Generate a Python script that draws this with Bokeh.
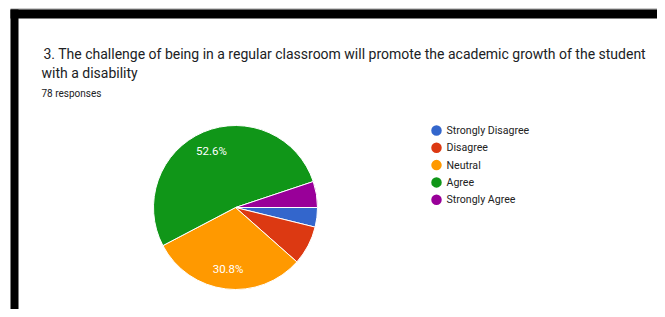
import numpy as np
from bokeh.plotting import figure
from bokeh.models import Range1d, BoxAnnotation
from bokeh.core.properties import value
from bokeh.embed import file_html
from bokeh.resources import INLINE

# ---- data ----
title_lines = ["3.  The challenge of being in a regular classroom will promote the academic growth of the student",
               "with a disability"]
subtitle = "78 responses"
categories = ["Strongly Disagree", "Disagree", "Neutral", "Agree", "Strongly Agree"]
counts = [3, 6, 24, 41, 4]
colors = ["#3366cc", "#dc3912", "#ff9900", "#109618", "#990099"]

W, H = 657, 309
# data coords: x = picture px, y = H - picture py
def Y(py):
    return H - py

p = figure(width=W, height=H, output_backend="svg", toolbar_location=None,
           x_range=Range1d(0, W), y_range=Range1d(0, H),
           min_border=0, outline_line_color=None)
p.axis.visible = False
p.grid.visible = False
p.background_fill_color = "white"
p.border_fill_color = "white"

# frame decoration (black border of screenshot)
p.add_layout(BoxAnnotation(left=10, right=W, top=Y(8), bottom=Y(9), fill_color="#9a9a9a", fill_alpha=1, line_color=None))
p.add_layout(BoxAnnotation(left=10, right=W, top=Y(9), bottom=Y(18), fill_color="black", fill_alpha=1, line_color=None))
p.add_layout(BoxAnnotation(left=10, right=18, top=Y(9), bottom=0, fill_color="black", fill_alpha=1, line_color=None))

font = value("Roboto")
# title
p.text(x=[43], y=[Y(53)], text=[title_lines[0]], text_font=font, text_font_size="14px",
       text_color="#202124", text_baseline="alphabetic")
p.text(x=[41], y=[Y(72)], text=[title_lines[1]], text_font=font, text_font_size="14px",
       text_color="#202124", text_baseline="alphabetic")
p.text(x=[41], y=[Y(93)], text=[subtitle], text_font=font, text_font_size="10px",
       text_color="#202124", text_baseline="alphabetic")

# pie: starts at 3 o'clock, goes clockwise
total = sum(counts)
frac = np.array(counts) / total
cum = np.concatenate([[0], np.cumsum(frac)]) * 2 * np.pi
cx, cy, r = 235, Y(207), 82
starts = -cum[1:]
ends = -cum[:-1]
p.wedge(x=[cx] * len(counts), y=[cy] * len(counts), radius=r,
        start_angle=starts, end_angle=ends, fill_color=colors,
        line_color="white", line_width=1)

# percentage labels for large slices
mids = -(cum[:-1] + cum[1:]) / 2
lx, ly, lt = [], [], []
for f, m in zip(frac, mids):
    if f > 0.1:
        lx.append(cx + 0.75 * r * np.cos(m))
        ly.append(cy + 0.75 * r * np.sin(m))
        lt.append(f"{f*100:.1f}%")
p.text(x=lx, y=ly, text=lt, text_font=font, text_font_size="11.5px", text_color="white",
       text_align="center", text_baseline="middle")

# legend
ys = [Y(130 + 17.3 * i) for i in range(len(categories))]
p.scatter(x=[436] * len(categories), y=ys, size=10.5, fill_color=colors, line_color=None)
p.text(x=[446] * len(categories), y=ys, text=categories, text_font=font, text_font_size="10.6px",
       text_color="#222222", text_baseline="middle")

open("out.html", "w").write(file_html(p, INLINE))
